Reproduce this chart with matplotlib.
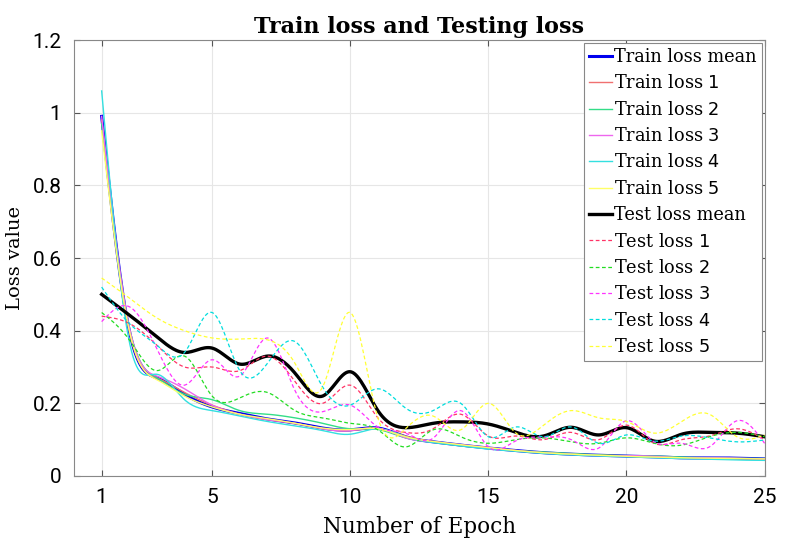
import matplotlib
matplotlib.use("Agg")
import matplotlib.pyplot as plt
import numpy as np

epochs = np.arange(1, 26)

train_mean = [0.99, 0.40, 0.27, 0.225, 0.19, 0.172, 0.157, 0.146, 0.132, 0.127, 0.132, 0.108, 0.094,
              0.085, 0.077, 0.070, 0.064, 0.060, 0.057, 0.055, 0.053, 0.050, 0.050, 0.049, 0.047]
train_1 = [0.98, 0.40, 0.27, 0.23, 0.195, 0.17, 0.155, 0.145, 0.13, 0.125, 0.13, 0.11, 0.095,
           0.085, 0.078, 0.070, 0.065, 0.060, 0.058, 0.055, 0.052, 0.050, 0.050, 0.048, 0.046]
train_2 = [0.97, 0.41, 0.27, 0.225, 0.21, 0.18, 0.17, 0.16, 0.145, 0.13, 0.128, 0.105, 0.093,
           0.083, 0.076, 0.070, 0.066, 0.062, 0.058, 0.056, 0.055, 0.052, 0.050, 0.049, 0.048]
train_3 = [0.99, 0.41, 0.275, 0.24, 0.195, 0.17, 0.155, 0.145, 0.13, 0.125, 0.132, 0.105, 0.094,
           0.086, 0.078, 0.070, 0.064, 0.060, 0.056, 0.056, 0.054, 0.050, 0.050, 0.049, 0.047]
train_4 = [1.06, 0.37, 0.28, 0.21, 0.18, 0.165, 0.15, 0.138, 0.125, 0.115, 0.13, 0.108, 0.092,
           0.083, 0.074, 0.068, 0.062, 0.058, 0.055, 0.053, 0.050, 0.048, 0.046, 0.044, 0.043]
train_5 = [0.95, 0.40, 0.265, 0.22, 0.19, 0.17, 0.158, 0.145, 0.132, 0.128, 0.13, 0.108, 0.095,
           0.086, 0.078, 0.070, 0.064, 0.060, 0.057, 0.054, 0.052, 0.050, 0.049, 0.048, 0.047]

test_mean = [0.50, 0.443, 0.383, 0.34, 0.352, 0.308, 0.33, 0.283, 0.22, 0.287, 0.18, 0.133, 0.145,
             0.149, 0.143, 0.12, 0.11, 0.134, 0.113, 0.133, 0.096, 0.115, 0.12, 0.118, 0.108]
test_1 = [0.44, 0.42, 0.36, 0.30, 0.30, 0.29, 0.33, 0.26, 0.20, 0.25, 0.16, 0.12, 0.13,
          0.17, 0.11, 0.11, 0.10, 0.12, 0.10, 0.14, 0.09, 0.10, 0.11, 0.13, 0.10]
test_2 = [0.45, 0.375, 0.29, 0.33, 0.22, 0.215, 0.23, 0.18, 0.16, 0.145, 0.127, 0.08, 0.127,
          0.108, 0.09, 0.10, 0.105, 0.094, 0.09, 0.105, 0.09, 0.085, 0.108, 0.12, 0.108]
test_3 = [0.425, 0.466, 0.35, 0.25, 0.32, 0.275, 0.38, 0.235, 0.177, 0.195, 0.135, 0.118, 0.104,
          0.18, 0.08, 0.097, 0.107, 0.10, 0.077, 0.152, 0.094, 0.09, 0.08, 0.152, 0.09]
test_4 = [0.52, 0.42, 0.36, 0.34, 0.45, 0.29, 0.31, 0.37, 0.245, 0.195, 0.24, 0.187, 0.18,
          0.20, 0.108, 0.135, 0.108, 0.135, 0.09, 0.113, 0.096, 0.11, 0.105, 0.094, 0.099]
test_5 = [0.545, 0.49, 0.435, 0.40, 0.38, 0.377, 0.375, 0.31, 0.245, 0.45, 0.16, 0.13, 0.165,
          0.127, 0.20, 0.118, 0.14, 0.18, 0.16, 0.15, 0.118, 0.15, 0.17, 0.108, 0.113]


def spline(x, y, n=400):
    # natural cubic spline through the epoch points, for a smooth curve
    x = np.asarray(x, float)
    y = np.asarray(y, float)
    k = len(x)
    h = np.diff(x)
    A = np.zeros((k, k))
    b = np.zeros(k)
    A[0, 0] = A[-1, -1] = 1
    for i in range(1, k - 1):
        A[i, i - 1] = h[i - 1]
        A[i, i] = 2 * (h[i - 1] + h[i])
        A[i, i + 1] = h[i]
        b[i] = 3 * ((y[i + 1] - y[i]) / h[i] - (y[i] - y[i - 1]) / h[i - 1])
    c = np.linalg.solve(A, b)
    xs = np.linspace(x[0], x[-1], n)
    idx = np.clip(np.searchsorted(x, xs) - 1, 0, k - 2)
    dx = xs - x[idx]
    bb = (y[idx + 1] - y[idx]) / h[idx] - h[idx] * (2 * c[idx] + c[idx + 1]) / 3
    dd = (c[idx + 1] - c[idx]) / (3 * h[idx])
    ys = y[idx] + bb * dx + c[idx] * dx ** 2 + dd * dx ** 3
    return xs, ys


train_runs = [train_1, train_2, train_3, train_4, train_5]
test_runs = [test_1, test_2, test_3, test_4, test_5]
train_colors = ["#f07070", "#33dd88", "#ee66ee", "#33e0e0", "#ffff66"]
test_colors = ["#ff3366", "#22dd22", "#ff33ff", "#00dddd", "#ffff33"]

serif = "DejaVu Serif"
sans = ["Roboto", "DejaVu Sans"]

fig = plt.figure(figsize=(7.91, 5.49), dpi=100)
ax = fig.add_axes([0.0936, 0.133, 0.873, 0.794])

ax.plot(*spline(epochs, train_mean), color="#0000ee", lw=2.2, label="Train loss mean")
for i, run in enumerate(train_runs):
    ax.plot(*spline(epochs, run), color=train_colors[i], lw=1.0,
            label="Train loss $\\mathsf{%d}$" % (i + 1))
ax.plot(*spline(epochs, test_mean), color="black", lw=2.4, label="Test loss mean")
for i, run in enumerate(test_runs):
    ax.plot(*spline(epochs, run), color=test_colors[i], lw=0.9, ls=(0, (3, 2)),
            label="Test loss $\\mathsf{%d}$" % (i + 1))

ax.set_xlim(0, 25)
ax.set_ylim(0, 1.2)
ax.set_xticks([1, 5, 10, 15, 20, 25])
ax.set_yticks([0, 0.2, 0.4, 0.6, 0.8, 1.0, 1.2])
ax.set_yticklabels(["0", "0.2", "0.4", "0.6", "0.8", "1", "1.2"])
ax.grid(True, color="#e6e6e6", lw=0.8)
ax.set_axisbelow(True)
ax.tick_params(direction="in", length=4, color="#555555", labelsize=15, pad=9,
               top=True, right=True)
for lab in ax.get_xticklabels() + ax.get_yticklabels():
    lab.set_fontfamily(sans)
for sp in ax.spines.values():
    sp.set_color("#888888")

ax.set_title("Train loss and Testing loss", fontfamily=serif, fontsize=16,
             fontweight="bold", pad=5)
ax.set_xlabel("Number of Epoch", fontfamily=serif, fontsize=15.5, labelpad=6)
ax.set_ylabel("Loss value", fontfamily=serif, fontsize=14, labelpad=6)

leg = ax.legend(loc="upper right", prop={"family": serif, "size": 12.8}, handlelength=1.3,
                handletextpad=0.1, labelspacing=0.47, borderaxespad=0.15, borderpad=0.3,
                fancybox=False, framealpha=1)
leg.get_frame().set_edgecolor("#888888")
leg.get_frame().set_linewidth(0.8)

plt.savefig("out.png", dpi=100)
